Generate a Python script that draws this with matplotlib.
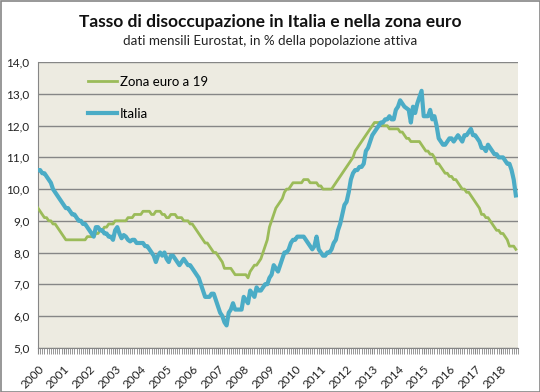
import matplotlib
matplotlib.use("Agg")
import matplotlib.pyplot as plt
from matplotlib.patches import Rectangle
import numpy as np

plt.rcParams['font.family'] = ['Lato', 'DejaVu Sans']

title = "Tasso di disoccupazione in Italia e nella zona euro"
subtitle = "dati mensili Eurostat, in % della popolazione attiva"
years = [str(y) for y in range(2000, 2019)]
series_names = ["Zona euro a 19", "Italia"]

# monthly values Jan 2000 - Aug 2018
italia = [
    10.6, 10.6, 10.5, 10.5, 10.4, 10.3, 10.2, 10.0, 9.9, 9.8, 9.7, 9.6,   # 2000
    9.5, 9.4, 9.4, 9.3, 9.2, 9.2, 9.1, 9.0, 9.0, 8.9, 8.9, 8.8,           # 2001
    8.7, 8.6, 8.5, 8.8, 8.8, 8.7, 8.7, 8.6, 8.6, 8.5, 8.5, 8.4,           # 2002
    8.7, 8.8, 8.6, 8.45, 8.55, 8.5, 8.4, 8.35, 8.4, 8.4, 8.3, 8.3,        # 2003
    8.3, 8.3, 8.2, 8.2, 8.1, 8.0, 7.9, 7.7, 7.9, 8.0, 7.9, 8.0,           # 2004
    7.8, 7.7, 7.9, 7.9, 7.8, 7.7, 7.6, 7.7, 7.8, 7.7, 7.6, 7.6,           # 2005
    7.5, 7.4, 7.3, 7.2, 7.0, 6.8, 6.6, 6.6, 6.6, 6.7, 6.7, 6.5,           # 2006
    6.3, 6.1, 6.0, 5.8, 5.7, 6.1, 6.2, 6.4, 6.2, 6.2, 6.2, 6.2,           # 2007
    6.6, 6.5, 6.4, 6.8, 6.7, 6.6, 6.9, 6.8, 6.8, 6.9, 7.0, 7.0,           # 2008
    7.2, 7.3, 7.6, 7.5, 7.4, 7.6, 7.8, 8.0, 8.0, 8.1, 8.3, 8.4,           # 2009
    8.4, 8.5, 8.5, 8.5, 8.5, 8.4, 8.3, 8.2, 8.1, 8.2, 8.5, 8.1,           # 2010
    8.0, 7.9, 7.9, 8.0, 8.0, 8.1, 8.3, 8.4, 8.7, 8.9, 9.2, 9.5,           # 2011
    9.6, 9.9, 10.3, 10.5, 10.6, 10.6, 10.7, 10.7, 10.8, 11.2, 11.3, 11.5, # 2012
    11.7, 11.8, 11.9, 12.0, 12.1, 12.1, 12.2, 12.2, 12.3, 12.2, 12.2, 12.5, # 2013
    12.6, 12.8, 12.7, 12.6, 12.55, 12.5, 12.1, 12.6, 12.4, 12.7, 12.9, 13.1, # 2014
    12.3, 12.3, 12.3, 12.5, 12.2, 12.3, 12.0, 11.6, 11.5, 11.4, 11.4, 11.5, # 2015
    11.6, 11.6, 11.5, 11.6, 11.7, 11.6, 11.5, 11.7, 11.7, 11.8, 11.9, 11.7, # 2016
    11.7, 11.6, 11.5, 11.3, 11.3, 11.2, 11.4, 11.3, 11.2, 11.1, 11.1, 11.0, # 2017
    11.0, 11.0, 10.9, 10.8, 10.8, 10.6, 10.3, 9.8,                          # 2018
]

zona_euro = [
    9.4, 9.3, 9.2, 9.1, 9.1, 9.0, 9.0, 8.9, 8.9, 8.8, 8.7, 8.6,           # 2000
    8.5, 8.4, 8.4, 8.4, 8.4, 8.4, 8.4, 8.4, 8.4, 8.4, 8.4, 8.5,           # 2001
    8.5, 8.5, 8.5, 8.6, 8.6, 8.7, 8.7, 8.8, 8.8, 8.9, 8.9, 8.9,           # 2002
    9.0, 9.0, 9.0, 9.0, 9.0, 9.0, 9.1, 9.1, 9.1, 9.2, 9.2, 9.2,           # 2003
    9.2, 9.3, 9.3, 9.3, 9.3, 9.2, 9.2, 9.3, 9.3, 9.3, 9.2, 9.2,           # 2004
    9.1, 9.1, 9.2, 9.2, 9.2, 9.1, 9.1, 9.1, 9.0, 9.0, 9.0, 8.9,           # 2005
    8.9, 8.8, 8.7, 8.6, 8.5, 8.4, 8.3, 8.3, 8.2, 8.1, 8.0, 8.0,           # 2006
    7.9, 7.8, 7.7, 7.5, 7.5, 7.5, 7.5, 7.4, 7.3, 7.3, 7.3, 7.3,           # 2007
    7.3, 7.3, 7.2, 7.4, 7.5, 7.6, 7.6, 7.7, 7.8, 8.0, 8.2, 8.4,           # 2008
    8.8, 9.0, 9.2, 9.4, 9.5, 9.6, 9.7, 9.9, 10.0, 10.0, 10.1, 10.2,       # 2009
    10.2, 10.2, 10.2, 10.2, 10.3, 10.3, 10.3, 10.2, 10.2, 10.2, 10.2, 10.1, # 2010
    10.1, 10.0, 10.0, 10.0, 10.0, 10.0, 10.1, 10.2, 10.3, 10.4, 10.5, 10.6, # 2011
    10.7, 10.8, 10.9, 11.0, 11.2, 11.3, 11.4, 11.5, 11.6, 11.7, 11.8, 11.9, # 2012
    12.0, 12.1, 12.1, 12.1, 12.1, 12.0, 12.0, 12.0, 11.9, 11.9, 11.9, 11.9, # 2013
    11.9, 11.8, 11.8, 11.7, 11.6, 11.6, 11.5, 11.5, 11.5, 11.5, 11.5, 11.4, # 2014
    11.3, 11.2, 11.2, 11.1, 11.1, 11.0, 10.8, 10.8, 10.7, 10.6, 10.5, 10.5, # 2015
    10.4, 10.4, 10.3, 10.3, 10.2, 10.1, 10.0, 10.0, 9.9, 9.9, 9.8, 9.7,   # 2016
    9.6, 9.5, 9.4, 9.2, 9.2, 9.1, 9.1, 9.0, 8.9, 8.8, 8.7, 8.7,           # 2017
    8.6, 8.6, 8.5, 8.4, 8.2, 8.2, 8.2, 8.1,                               # 2018
]

green = "#9BBB59"
blue = "#4BACC6"
grid_c = "#868686"

fig = plt.figure(figsize=(5.4, 3.92), dpi=100)
fig.patch.set_facecolor("white")
ax = fig.add_axes([38/540, 1-347.6/392, 480/540, (347.6-62.3)/392])
ax.set_facecolor("#EDEBE1")

months = np.arange(len(italia))
ax.plot(months, zona_euro, color=green, lw=2.0, label=series_names[0], solid_joinstyle="round", zorder=3)
ax.plot(months, italia, color=blue, lw=3.0, label=series_names[1], solid_joinstyle="round", zorder=4)

ax.set_xlim(0, 224)
ax.set_ylim(5, 14)
yt = np.arange(5, 14.01, 1)
ax.set_yticks(yt)
ax.set_yticklabels([f"{v:.1f}".replace(".", ",") for v in yt], fontsize=8.5, color="#222222")
ax.yaxis.grid(True, color=grid_c, lw=1.0)
ax.set_axisbelow(True)
ax.tick_params(axis="y", length=0, pad=6)

ax.set_xticks(np.arange(0, 224, 12))
ax.set_xticklabels(years, rotation=45, ha="right", va="top", rotation_mode="anchor", fontsize=8.5, color="#222222")
ax.set_xticks(np.arange(0, 225, 1), minor=True)
ax.tick_params(axis="x", which="major", length=4, color=grid_c, pad=7)
ax.tick_params(axis="x", which="minor", length=4, color=grid_c)

for s in ["top", "right"]:
    ax.spines[s].set_visible(False)
ax.spines["left"].set_color(grid_c)
ax.spines["bottom"].set_color(grid_c)

leg = ax.legend(loc="upper left", bbox_to_anchor=(0.08, 0.995), frameon=False,
                fontsize=9.5, handlelength=2.2, handletextpad=0.2, labelspacing=1.55)

fig.text(0.5, 1-22/392, title, ha="center", va="center", fontsize=12.5, fontweight="bold", color="#111111")
fig.text(0.5, 1-41/392, subtitle, ha="center", va="center", fontsize=9.6, color="#222222")

fig.patches.append(Rectangle((0.5/540, 0.5/392), 1-1/540, 1-1/392, transform=fig.transFigure,
                             fill=False, edgecolor="#868686", lw=1.2))

fig.savefig("out.png", dpi=100)
